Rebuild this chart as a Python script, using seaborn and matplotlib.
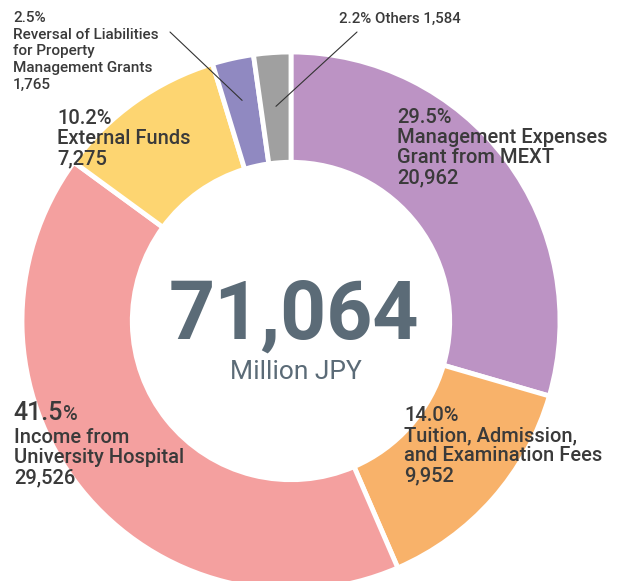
import numpy as np
import matplotlib.pyplot as plt
import seaborn as sns

# data
categories = ["Management Expenses\nGrant from MEXT",
              "Tuition, Admission,\nand Examination Fees",
              "Income from\nUniversity Hospital",
              "External Funds",
              "Reversal of Liabilities\nfor Property\nManagement Grants",
              "Others"]
values = [20962, 9952, 29526, 7275, 1765, 1584]
total_label = "71,064"
unit_label = "Million JPY"

colors = ["#BC93C4", "#F8B26A", "#F4A09F", "#FDD571", "#9089C1", "#A0A0A0"]

sns.set_theme(style="white")
plt.rcParams['font.family'] = ['Roboto', 'DejaVu Sans']

W, H = 630, 581
CX, CY, R = 291, 321, 269
fig = plt.figure(figsize=(W / 100, H / 100), dpi=100)
ax = fig.add_axes([0, 0, 1, 1])

wedges, _ = ax.pie(values, colors=colors, startangle=90, counterclock=False,
                   radius=1, wedgeprops=dict(width=0.41, edgecolor="white", linewidth=3.5))
ax.set_xlim(-CX / R, (W - CX) / R)
ax.set_ylim(-(H - CY) / R, CY / R)
ax.set_aspect("equal")
ax.axis("off")


def px(x, y):
    return (x - CX) / R, (CY - y) / R


total = sum(values)
pct = [f"{v / total * 100:.1f}%" for v in values]
val_txt = [f"{v:,}" for v in values]
txt_col = "#3a3a3a"
main_fs = 14.5

# big labels
big = [(0, 397, 108), (1, 404, 406), (3, 57, 109)]
for i, x, y in big:
    ax.text(*px(x, y), f"{pct[i]}\n{categories[i]}\n{val_txt[i]}", ha="left", va="top",
            fontsize=main_fs, color=txt_col, fontweight="medium", linespacing=1.08)

# hospital label with larger number
t = ax.text(*px(13, 401), pct[2][:-1], ha="left", va="top", fontsize=18,
            color=txt_col, fontweight="medium")
ax.annotate("%", xy=(1, 0), xycoords=t, va="bottom", ha="left", fontsize=main_fs,
            color=txt_col, fontweight="medium", xytext=(0, 1), textcoords="offset points")
ax.text(*px(14, 428), f"{categories[2]}\n{val_txt[2]}", ha="left", va="top",
        fontsize=main_fs, color=txt_col, fontweight="medium", linespacing=1.08)

# small labels with leader lines
def wedge_point(i, r=0.82):
    w = wedges[i]
    th = np.deg2rad((w.theta1 + w.theta2) / 2)
    return r * np.cos(th), r * np.sin(th)

ax.annotate(f"{pct[4]}\n{categories[4]}\n{val_txt[4]}", xy=wedge_point(4, 0.84),
            xytext=px(13, 11), ha="left", va="top", fontsize=11, color=txt_col,
            fontweight="medium", linespacing=1.25)
ax.annotate("", xy=wedge_point(4, 0.84), xytext=px(170, 32),
            arrowprops=dict(arrowstyle="-", color="#333333", lw=0.8, shrinkA=0, shrinkB=0))

ax.annotate(f"{pct[5]} {categories[5]} {val_txt[5]}", xy=wedge_point(5, 0.80),
            xytext=px(339, 19), ha="left", va="center", fontsize=10.8, color=txt_col,
            fontweight="medium")
ax.annotate("", xy=wedge_point(5, 0.80), xytext=px(357, 32),
            arrowprops=dict(arrowstyle="-", color="#333333", lw=0.8, shrinkA=0, shrinkB=0))

# centre total
ax.text(*px(294, 317), total_label, ha="center", va="center", fontsize=58,
        fontweight="bold", color="#5B6B77")
ax.text(*px(296, 372), unit_label, ha="center", va="center", fontsize=19,
        color="#5B6B77")

fig.savefig("out.png", dpi=100)
